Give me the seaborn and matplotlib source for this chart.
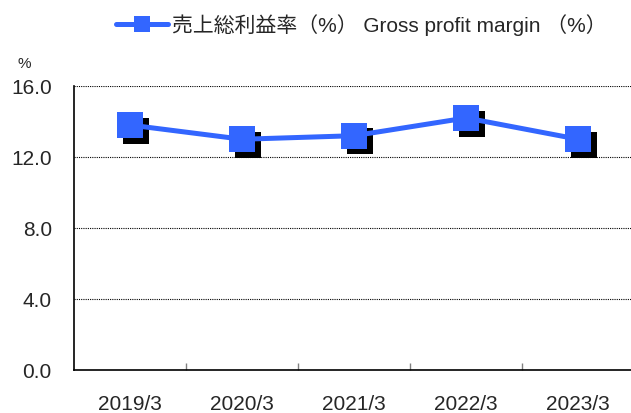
import matplotlib
matplotlib.use('Agg')
import matplotlib.pyplot as plt
import matplotlib.transforms as mtransforms
from matplotlib.lines import Line2D
import pandas as pd
import seaborn as sns

# data
years = ['2019/3', '2020/3', '2021/3', '2022/3', '2023/3']
margin = [13.8, 13.0, 13.2, 14.2, 13.0]
series_label = '売上総利益率（%） Gross profit margin （%）'
y_ticks = [0.0, 4.0, 8.0, 12.0, 16.0]

df = pd.DataFrame({'year': years, 'margin': margin})

sns.set_theme(style='white')
plt.rcParams['font.family'] = ['Liberation Sans', 'Noto Sans CJK JP']

blue = '#3366FF'

fig = plt.figure(figsize=(6.31, 4.14), dpi=100)
ax = fig.add_axes([74 / 631, 43 / 414, 557 / 631, 284 / 414])

# black drop shadow behind the markers
shadow = mtransforms.offset_copy(ax.transData, fig=fig, x=4, y=-4, units='points')
ax.plot(range(len(years)), margin, linestyle='none', marker='s', markersize=19,
        markeredgewidth=0, color='black', transform=shadow, zorder=2)

sns.lineplot(data=df, x='year', y='margin', ax=ax, color=blue, linewidth=3.6,
             marker='s', label=series_label, zorder=3)
main_line = ax.get_lines()[-1]
main_line.set_markersize(19)
main_line.set_markeredgewidth(0)
ax.get_legend().remove()

ax.set_xlim(-0.5, 4.47)
ax.set_ylim(0, 16)
ax.set_yticks(y_ticks)
ax.set_yticklabels([f'{v:.1f}' for v in y_ticks], fontsize=15)
ax.set_xticks(range(len(years)))
ax.set_xticklabels(years, fontsize=15)
ax.set_xticks([0.5, 1.5, 2.5, 3.5], minor=True)
ax.tick_params(axis='x', which='major', length=0, pad=17)
ax.tick_params(axis='x', which='minor', direction='in', length=5, color='gray', bottom=True)
ax.tick_params(axis='y', length=0, pad=16)
ax.set_xlabel('')
ax.set_ylabel('')

for v in y_ticks[1:]:
    ax.axhline(v, color='black', linestyle=(0, (1, 1)), linewidth=0.8, zorder=1)

for side in ['top', 'right']:
    ax.spines[side].set_visible(False)
for side in ['left', 'bottom']:
    ax.spines[side].set_color('black')
    ax.spines[side].set_linewidth(1.2)

ax.text(24 / 631, 1 - 64 / 414, '%', transform=fig.transFigure, fontsize=11,
        ha='center', va='center')

handle = Line2D([], [], color=blue, linewidth=3.6, marker='s', markersize=12,
                markeredgewidth=0)
fig.legend([handle], [series_label], loc='center', bbox_to_anchor=(361 / 631, 1 - 25 / 414),
           frameon=False, fontsize=15, handlelength=2.5, handletextpad=0.2)

fig.savefig('out.png', dpi=100)
